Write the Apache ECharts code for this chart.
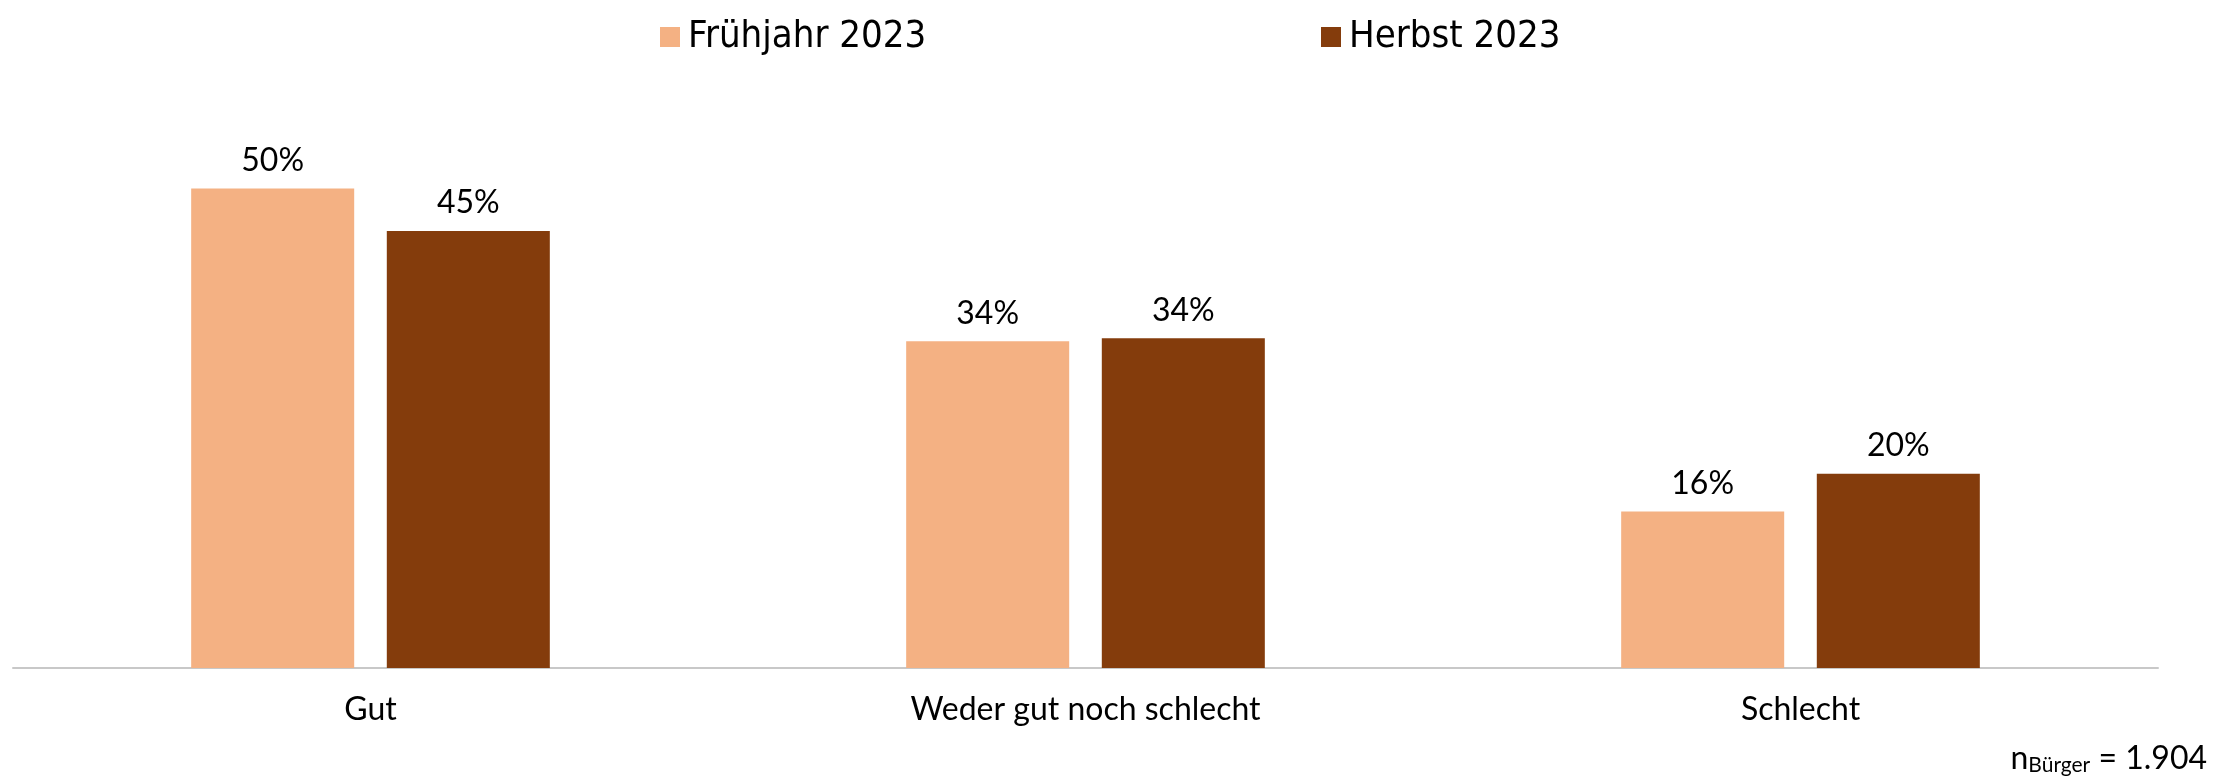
<!DOCTYPE html>
<html>
<head>
<meta charset="utf-8">
<script src="https://cdn.jsdelivr.net/npm/echarts@6/dist/echarts.min.js"></script>
<style>
    html, body { margin: 0; padding: 0; background: #fff; }
    #chart { width: 2233px; height: 779px; }
</style>
</head>
<body>
<div id="chart"></div>
<script type="text/javascript">
    // data
    var categories = ['Gut', 'Weder gut noch schlecht', 'Schlecht'];
    var seriesNames = ['Frühjahr 2023', 'Herbst 2023'];
    var fruehjahr = [49.6, 33.8, 16.2];
    var herbst = [45.2, 34.1, 20.1];

    var myChart = echarts.init(document.getElementById('chart'));

    var labelFont = 'Lato, "Noto Sans", sans-serif';
    var legendFont = '"Liberation Sans Narrow", "DejaVu Sans Condensed", "Arial Narrow", sans-serif';

    var option = {
        backgroundColor: '#fff',
        animation: false,
        legend: [{
            data: [seriesNames[0]],
            left: 655,
            top: 13,
            itemWidth: 20,
            itemHeight: 20,
            icon: 'rect',
            textStyle: { fontFamily: legendFont, fontSize: 38, color: '#000', padding: [0, 0, 0, 3] }
        }, {
            data: [seriesNames[1]],
            left: 1316,
            top: 13,
            itemWidth: 20,
            itemHeight: 20,
            icon: 'rect',
            textStyle: { fontFamily: legendFont, fontSize: 38, color: '#000', padding: [0, 0, 0, 3] }
        }],
        grid: {
            left: 13,
            right: 75,
            top: 88,
            bottom: 111
        },
        xAxis: {
            type: 'category',
            data: categories,
            axisLine: { lineStyle: { color: '#c8c8c8', width: 2 } },
            axisTick: { show: false },
            axisLabel: { fontFamily: labelFont, fontSize: 32, color: '#000', margin: 26 }
        },
        yAxis: {
            type: 'value',
            min: 0,
            max: 60,
            show: false,
            splitLine: { show: false }
        },
        series: [{
            name: seriesNames[0],
            type: 'bar',
            barWidth: '22.8%',
            barGap: '20%',
            itemStyle: { color: '#F4B183' },
            label: {
                show: true,
                position: 'top',
                distance: 12,
                fontFamily: labelFont,
                fontSize: 32,
                color: '#000',
                formatter: function (p) { return Math.round(p.value) + '%'; }
            },
            data: fruehjahr
        }, {
            name: seriesNames[1],
            type: 'bar',
            barWidth: '22.8%',
            barGap: '20%',
            itemStyle: { color: '#843C0C' },
            label: {
                show: true,
                position: 'top',
                distance: 12,
                fontFamily: labelFont,
                fontSize: 32,
                color: '#000',
                formatter: function (p) { return Math.round(p.value) + '%'; }
            },
            data: herbst
        }],
        graphic: [{
            type: 'text',
            right: 26,
            top: 743,
            style: {
                text: '{a|n}{b|Bürger}{a| = 1.904}',
                fill: '#000',
                rich: {
                    a: { fontFamily: labelFont, fontSize: 32, lineHeight: 34, color: '#000' },
                    b: { fontFamily: labelFont, fontSize: 21, lineHeight: 16, verticalAlign: 'bottom', color: '#000' }
                }
            }
        }]
    };

    myChart.setOption(option);
</script>
</body>
</html>
